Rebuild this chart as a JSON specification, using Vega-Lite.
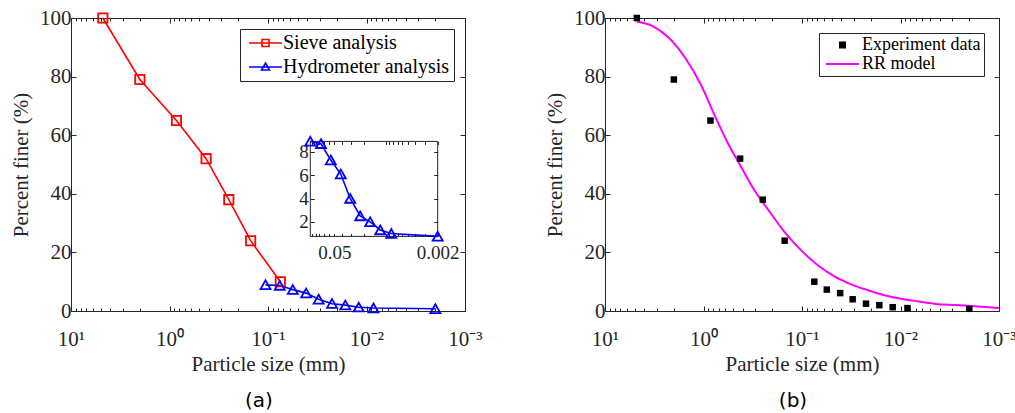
{
  "$schema": "https://vega.github.io/schema/vega-lite/v6.json",
  "background": "white",
  "padding": {"left": 10, "top": 6, "right": 5, "bottom": 5},
  "datasets": {
    "gradation": [
      {"series": "Sieve analysis", "d": 4.75, "p": 100},
      {"series": "Sieve analysis", "d": 2.0, "p": 79},
      {"series": "Sieve analysis", "d": 0.85, "p": 65},
      {"series": "Sieve analysis", "d": 0.425, "p": 52},
      {"series": "Sieve analysis", "d": 0.25, "p": 38},
      {"series": "Sieve analysis", "d": 0.15, "p": 24},
      {"series": "Sieve analysis", "d": 0.075, "p": 10},
      {"series": "Hydrometer analysis", "d": 0.106, "p": 8.9},
      {"series": "Hydrometer analysis", "d": 0.076, "p": 8.7},
      {"series": "Hydrometer analysis", "d": 0.056, "p": 7.3},
      {"series": "Hydrometer analysis", "d": 0.041, "p": 6.1},
      {"series": "Hydrometer analysis", "d": 0.0306, "p": 4.0},
      {"series": "Hydrometer analysis", "d": 0.0224, "p": 2.5},
      {"series": "Hydrometer analysis", "d": 0.0164, "p": 2.0},
      {"series": "Hydrometer analysis", "d": 0.012, "p": 1.3},
      {"series": "Hydrometer analysis", "d": 0.0085, "p": 1.0},
      {"series": "Hydrometer analysis", "d": 0.002, "p": 0.75}
    ],
    "fitting": [
      {"series": "Experiment data", "d": 4.75, "p": 100},
      {"series": "Experiment data", "d": 2.0, "p": 79},
      {"series": "Experiment data", "d": 0.85, "p": 65},
      {"series": "Experiment data", "d": 0.425, "p": 52},
      {"series": "Experiment data", "d": 0.25, "p": 38},
      {"series": "Experiment data", "d": 0.15, "p": 24},
      {"series": "Experiment data", "d": 0.075, "p": 10},
      {"series": "Experiment data", "d": 0.056, "p": 7.3},
      {"series": "Experiment data", "d": 0.041, "p": 6.1},
      {"series": "Experiment data", "d": 0.0306, "p": 4.0},
      {"series": "Experiment data", "d": 0.0224, "p": 2.5},
      {"series": "Experiment data", "d": 0.0164, "p": 2.0},
      {"series": "Experiment data", "d": 0.012, "p": 1.3},
      {"series": "Experiment data", "d": 0.0085, "p": 1.0},
      {"series": "Experiment data", "d": 0.002, "p": 0.75},
      {"series": "RR model", "d": 4.75, "p": 98.8},
      {"series": "RR model", "d": 3.37, "p": 97.4},
      {"series": "RR model", "d": 2.28, "p": 93.4},
      {"series": "RR model", "d": 1.55, "p": 86.6},
      {"series": "RR model", "d": 1.05, "p": 76.9},
      {"series": "RR model", "d": 0.769, "p": 66.7},
      {"series": "RR model", "d": 0.562, "p": 57.1},
      {"series": "RR model", "d": 0.413, "p": 49.1},
      {"series": "RR model", "d": 0.303, "p": 41.1},
      {"series": "RR model", "d": 0.221, "p": 34.6},
      {"series": "RR model", "d": 0.15, "p": 26.9},
      {"series": "RR model", "d": 0.102, "p": 20.7},
      {"series": "RR model", "d": 0.069, "p": 15.6},
      {"series": "RR model", "d": 0.0469, "p": 11.8},
      {"series": "RR model", "d": 0.0318, "p": 9.1},
      {"series": "RR model", "d": 0.0215, "p": 7.1},
      {"series": "RR model", "d": 0.0146, "p": 5.4},
      {"series": "RR model", "d": 0.0099, "p": 4.2},
      {"series": "RR model", "d": 0.0067, "p": 3.3},
      {"series": "RR model", "d": 0.00455, "p": 2.5},
      {"series": "RR model", "d": 0.00209, "p": 1.8},
      {"series": "RR model", "d": 0.001, "p": 1.0}
    ]
  },
  "hconcat": [
    {
      "width": 394,
      "height": 293,
      "data": {"name": "gradation"},
      "title": {"text": "(a)", "orient": "bottom", "anchor": "middle", "frame": "group", "offset": 17, "dx": -9, "font": "DejaVu Sans", "fontSize": 20, "fontWeight": "normal", "color": "black"},
      "layer": [
        {
          "layer": [
            {
              "mark": {"type": "point", "opacity": 0},
              "encoding": {
                "x": {"field": "d", "type": "quantitative", "scale": {"type": "log", "domain": [0.001, 10], "reverse": true, "nice": false},
                  "axis": {"orient": "top", "values": [10,9,8,7,6,5,4,3,2,1,0.9,0.8,0.7,0.6,0.5,0.4,0.3,0.2,0.1,0.09,0.08,0.07,0.06,0.05,0.04,0.03,0.02,0.01,0.009,0.008,0.007,0.006,0.005,0.004,0.003,0.002,0.001], "labels": false, "title": null,
                    "tickSize": {"condition": {"test": "indexof([10,1,0.1,0.01,0.001], datum.value) >= 0", "value": -5}, "value": -3}}},
                "y": {"field": "p", "type": "quantitative", "scale": {"domain": [0, 100], "nice": false},
                  "axis": {"orient": "right", "values": [0, 20, 40, 60, 80, 100], "labels": false, "title": null, "tickSize": -5}}
              }
            },
            {
              "mark": {"type": "line", "strokeWidth": 1.6},
              "encoding": {
                "x": {"field": "d", "type": "quantitative", "scale": {"type": "log", "domain": [0.001, 10], "reverse": true, "nice": false},
                  "axis": {"orient": "bottom", "values": [10,9,8,7,6,5,4,3,2,1,0.9,0.8,0.7,0.6,0.5,0.4,0.3,0.2,0.1,0.09,0.08,0.07,0.06,0.05,0.04,0.03,0.02,0.01,0.009,0.008,0.007,0.006,0.005,0.004,0.003,0.002,0.001],
                    "labelExpr": "datum.value === 10 ? '10\u00b9' : datum.value === 1 ? '10\u2070' : datum.value === 0.1 ? '10\u207b\u00b9' : datum.value === 0.01 ? '10\u207b\u00b2' : datum.value === 0.001 ? '10\u207b\u00b3' : ''",
                    "tickSize": {"condition": {"test": "indexof([10,1,0.1,0.01,0.001], datum.value) >= 0", "value": -5}, "value": -3},
                    "labelPadding": 22, "title": "Particle size (mm)", "titlePadding": 2}},
                "y": {"field": "p", "type": "quantitative", "scale": {"domain": [0, 100], "nice": false},
                  "axis": {"orient": "left", "values": [0, 20, 40, 60, 80, 100], "tickSize": -5, "labelPadding": 5, "title": "Percent finer (%)", "titlePadding": 8}},
                "color": {"field": "series", "type": "nominal",
                  "scale": {"domain": ["Sieve analysis", "Hydrometer analysis"], "range": ["#ff0000", "#0000ff"]},
                  "legend": {"title": null, "orient": "top-right", "offset": 11, "padding": 4, "strokeColor": "#262626", "fillColor": "white",
                    "labelFont": "Liberation Serif", "labelFontSize": 20, "labelColor": "black", "labelOffset": 19, "symbolSize": 100, "rowPadding": 4, "labelLimit": 0,
                    "encode": {"symbols": {"update": {
                      "shape": {"signal": "datum.value === 'Sieve analysis' ? 'M-1,0H5.6M1.6,-0.7H3V0.7H1.6Z' : 'M-1,0H5.6M2.3,-0.8L3.1,0.6H1.5Z'"},
                      "stroke": {"signal": "datum.value === 'Sieve analysis' ? '#ff0000' : '#0000ff'"},
                      "fill": {"value": "transparent"},
                      "strokeWidth": {"value": 1.6},
                      "size": {"value": 100},
                      "opacity": {"value": 1}}}}}}
              }
            },
            {
              "transform": [{"filter": "datum.series === 'Sieve analysis'"}],
              "mark": {"type": "point", "filled": false, "size": 100, "strokeWidth": 1.8, "opacity": 1, "color": "#ff0000", "shape": "M-0.93,-0.93H0.93V0.93H-0.93Z"},
              "encoding": {
                "x": {"field": "d", "type": "quantitative", "scale": {"type": "log", "domain": [0.001, 10], "reverse": true, "nice": false}, "axis": null},
                "y": {"field": "p", "type": "quantitative", "scale": {"domain": [0, 100], "nice": false}, "axis": null}
              }
            },
            {
              "transform": [{"filter": "datum.series === 'Hydrometer analysis'"}],
              "mark": {"type": "point", "filled": false, "size": 100, "strokeWidth": 1.8, "opacity": 1, "color": "#0000ff", "shape": "M0,-0.9L1,0.85H-1Z"},
              "encoding": {
                "x": {"field": "d", "type": "quantitative", "scale": {"type": "log", "domain": [0.001, 10], "reverse": true, "nice": false}, "axis": null},
                "y": {"field": "p", "type": "quantitative", "scale": {"domain": [0, 100], "nice": false}, "axis": null}
              }
            }
          ],
          "resolve": {"axis": {"x": "independent", "y": "independent"}}
        },
        {
          "transform": [{"filter": "datum.series === 'Hydrometer analysis'"}],
          "layer": [
            {
              "transform": [{"aggregate": [
                {"op": "max", "field": "d", "as": "d_hi"},
                {"op": "min", "field": "d", "as": "d_lo"},
                {"op": "max", "field": "p", "as": "p_hi"},
                {"op": "min", "field": "p", "as": "p_lo"}]}],
              "mark": {"type": "rect", "filled": false, "stroke": "#262626", "strokeWidth": 1},
              "encoding": {
                "x": {"field": "d_hi", "type": "quantitative", "scale": {"type": "log", "domain": [0.002, 0.106], "range": [366.7, 239.3], "nice": false},
                  "axis": {"orient": "top", "offset": -123.4, "values": [0.1,0.09,0.08,0.07,0.06,0.05,0.04,0.03,0.02,0.01,0.009,0.008,0.007,0.006,0.005,0.004,0.003,0.002], "labels": false, "title": null, "tickSize": -3}},
                "x2": {"field": "d_lo"},
                "y": {"field": "p_hi", "type": "quantitative", "scale": {"domain": [0.75, 8.9], "range": [218.4, 123.4], "nice": false, "zero": false},
                  "axis": {"orient": "right", "offset": -27.3, "values": [2, 4, 6, 8], "labels": false, "title": null, "tickSize": -4}},
                "y2": {"field": "p_lo"}
              }
            },
            {
              "mark": {"type": "line", "color": "#0000ff", "strokeWidth": 1.6},
              "encoding": {
                "x": {"field": "d", "type": "quantitative", "scale": {"type": "log", "domain": [0.002, 0.106], "range": [366.7, 239.3], "nice": false},
                  "axis": {"orient": "bottom", "offset": -74.6, "values": [0.1,0.09,0.08,0.07,0.06,0.05,0.04,0.03,0.02,0.01,0.009,0.008,0.007,0.006,0.005,0.004,0.003,0.002],
                    "labelExpr": "datum.value === 0.05 ? '0.05' : datum.value === 0.002 ? '0.002' : ''", "labelFontSize": 19, "tickSize": -3, "labelPadding": 10, "title": null}},
                "y": {"field": "p", "type": "quantitative", "scale": {"domain": [0.75, 8.9], "range": [218.4, 123.4], "nice": false, "zero": false},
                  "axis": {"orient": "left", "offset": -239.3, "values": [2, 4, 6, 8], "labelFontSize": 19, "tickSize": -4, "labelPadding": 6, "title": null}}
              }
            },
            {
              "mark": {"type": "point", "filled": false, "size": 100, "strokeWidth": 1.8, "color": "#0000ff", "shape": "M0,-0.9L1,0.85H-1Z", "opacity": 1},
              "encoding": {
                "x": {"field": "d", "type": "quantitative", "scale": {"type": "log", "domain": [0.002, 0.106], "range": [366.7, 239.3], "nice": false}, "axis": null},
                "y": {"field": "p", "type": "quantitative", "scale": {"domain": [0.75, 8.9], "range": [218.4, 123.4], "nice": false, "zero": false}, "axis": null}
              }
            }
          ],
          "resolve": {"axis": {"x": "independent", "y": "independent"}}
        }
      ],
      "resolve": {"scale": {"x": "independent", "y": "independent"}}
    },
    {
      "width": 394,
      "height": 293,
      "data": {"name": "fitting"},
      "title": {"text": "(b)", "orient": "bottom", "anchor": "middle", "frame": "group", "offset": 17, "dx": -9, "font": "DejaVu Sans", "fontSize": 20, "fontWeight": "normal", "color": "black"},
      "layer": [
        {
          "mark": {"type": "point", "opacity": 0},
          "encoding": {
            "x": {"field": "d", "type": "quantitative", "scale": {"type": "log", "domain": [0.001, 10], "reverse": true, "nice": false},
              "axis": {"orient": "top", "values": [10,9,8,7,6,5,4,3,2,1,0.9,0.8,0.7,0.6,0.5,0.4,0.3,0.2,0.1,0.09,0.08,0.07,0.06,0.05,0.04,0.03,0.02,0.01,0.009,0.008,0.007,0.006,0.005,0.004,0.003,0.002,0.001], "labels": false, "title": null,
                "tickSize": {"condition": {"test": "indexof([10,1,0.1,0.01,0.001], datum.value) >= 0", "value": -5}, "value": -3}}},
            "y": {"field": "p", "type": "quantitative", "scale": {"domain": [0, 100], "nice": false},
              "axis": {"orient": "right", "values": [0, 20, 40, 60, 80, 100], "labels": false, "title": null, "tickSize": -5}}
          }
        },
        {
          "transform": [{"filter": "datum.series === 'RR model'"}],
          "mark": {"type": "line", "strokeWidth": 2, "interpolate": "monotone"},
          "encoding": {
            "x": {"field": "d", "type": "quantitative", "scale": {"type": "log", "domain": [0.001, 10], "reverse": true, "nice": false},
              "axis": {"orient": "bottom", "values": [10,9,8,7,6,5,4,3,2,1,0.9,0.8,0.7,0.6,0.5,0.4,0.3,0.2,0.1,0.09,0.08,0.07,0.06,0.05,0.04,0.03,0.02,0.01,0.009,0.008,0.007,0.006,0.005,0.004,0.003,0.002,0.001],
                "labelExpr": "datum.value === 10 ? '10\u00b9' : datum.value === 1 ? '10\u2070' : datum.value === 0.1 ? '10\u207b\u00b9' : datum.value === 0.01 ? '10\u207b\u00b2' : datum.value === 0.001 ? '10\u207b\u00b3' : ''",
                "tickSize": {"condition": {"test": "indexof([10,1,0.1,0.01,0.001], datum.value) >= 0", "value": -5}, "value": -3},
                "labelPadding": 22, "title": "Particle size (mm)", "titlePadding": 2}},
            "y": {"field": "p", "type": "quantitative", "scale": {"domain": [0, 100], "nice": false},
              "axis": {"orient": "left", "values": [0, 20, 40, 60, 80, 100], "tickSize": -5, "labelPadding": 5, "title": "Percent finer (%)", "titlePadding": 8}},
            "color": {"field": "series", "type": "nominal",
              "scale": {"domain": ["Experiment data", "RR model"], "range": ["#000000", "#ff00ff"]},
              "legend": {"title": null, "orient": "top-right", "offset": 15, "padding": 3, "strokeColor": "#262626", "fillColor": "white",
                "labelFont": "Liberation Serif", "labelFontSize": 18, "labelColor": "black", "labelOffset": 22, "symbolSize": 100, "rowPadding": 1, "labelLimit": 0,
                "encode": {"symbols": {"update": {
                  "shape": {"signal": "datum.value === 'Experiment data' ? 'M1.6,-0.7H3V0.7H1.6Z' : 'M-1,0H5.6'"},
                  "fill": {"signal": "datum.value === 'Experiment data' ? '#000000' : 'transparent'"},
                  "stroke": {"signal": "datum.value === 'Experiment data' ? '#000000' : '#ff00ff'"},
                  "strokeWidth": {"signal": "datum.value === 'Experiment data' ? 0 : 2"},
                  "size": {"value": 100},
                  "opacity": {"value": 1}}}}}}
          }
        },
        {
          "transform": [{"filter": "datum.series === 'Experiment data'"}],
          "mark": {"type": "square", "size": 42, "filled": true, "opacity": 1, "color": "#000000"},
          "encoding": {
            "x": {"field": "d", "type": "quantitative", "scale": {"type": "log", "domain": [0.001, 10], "reverse": true, "nice": false}, "axis": null},
            "y": {"field": "p", "type": "quantitative", "scale": {"domain": [0, 100], "nice": false}, "axis": null}
          }
        }
      ],
      "resolve": {"axis": {"x": "independent", "y": "independent"}}
    }
  ],
  "spacing": 140,
  "bounds": "flush",
  "resolve": {"scale": {"color": "independent"}, "legend": {"color": "independent"}},
  "config": {
    "view": {"stroke": "#262626", "strokeWidth": 1},
    "axis": {"grid": false, "domain": false, "labelFont": "serif", "titleFont": "serif", "labelFontSize": 21, "labelColor": "#262626",
      "titleFontSize": 21, "titleFontWeight": "normal", "titleColor": "#262626",
      "tickColor": "#262626", "tickWidth": 1, "labelFlush": false, "labelOverlap": false}
  }
}
